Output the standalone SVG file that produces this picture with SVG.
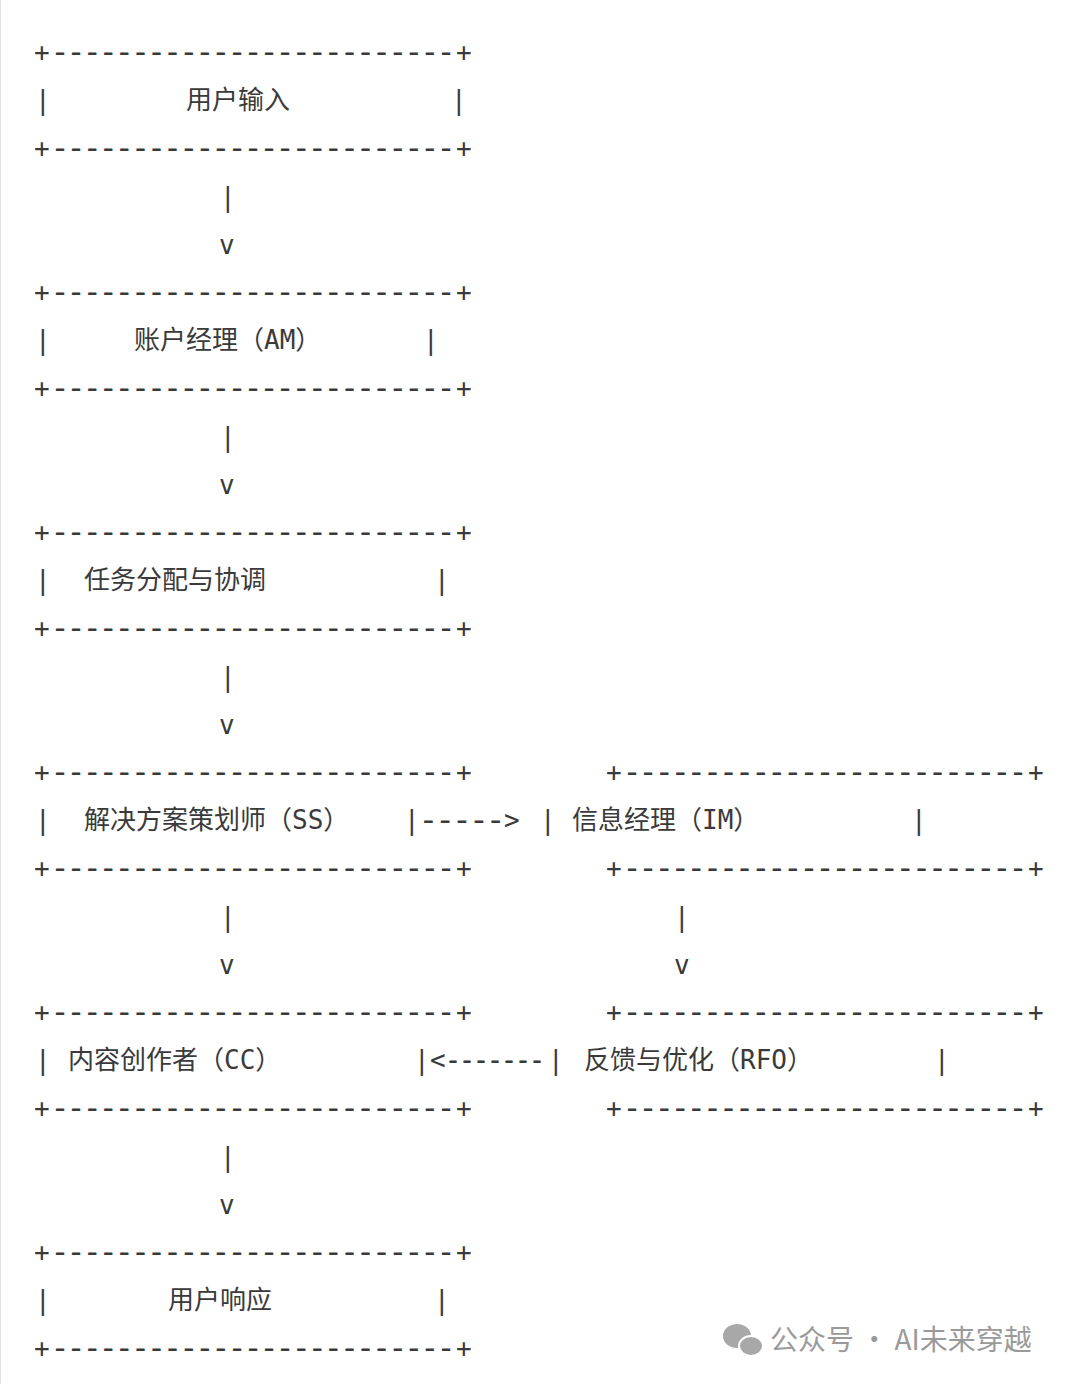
<svg xmlns="http://www.w3.org/2000/svg" width="1072" height="1384" viewBox="0 0 1072 1384">
<defs>
<g id="border"><text x="34" y="9">+</text><text class="d" x="52" y="7" textLength="402" lengthAdjust="spacingAndGlyphs">-------------------------</text><text x="456" y="9">+</text></g>
</defs>
<style>
text{font-family:"DejaVu Sans Mono","Noto Sans CJK SC",monospace;font-size:26px;fill:#3a3a3a}
.d{font-size:17px;font-weight:bold}
.c{font-family:"DejaVu Sans Mono","Noto Sans CJK SC",monospace;font-size:26px}
.w{font-family:"Noto Sans CJK SC","DejaVu Sans",sans-serif;font-size:28px;fill:#9a9a9a}
</style>
<rect width="1072" height="1384" fill="#fff"/>
<line x1="0.5" y1="0" x2="0.5" y2="1384" stroke="#e2e2e2"/>
<g id="n1"><use href="#border" y="52"/><text x="35" y="109">|</text><text class="c" x="186" y="109">用户输入</text><text x="451" y="109">|</text><use href="#border" y="148"/></g>
<g id="n2"><use href="#border" y="292"/><text x="35" y="349">|</text><text class="c" x="134" y="349">账户经理（AM）</text><text x="423" y="349">|</text><use href="#border" y="388"/></g>
<g id="n3"><use href="#border" y="532"/><text x="35" y="589">|</text><text class="c" x="84" y="589">任务分配与协调</text><text x="434" y="589">|</text><use href="#border" y="628"/></g>
<g id="n4"><use href="#border" y="772"/><text x="35" y="829">|</text><text class="c" x="84" y="829">解决方案策划师（SS）</text><use href="#border" y="868"/></g>
<g id="n5"><use href="#border" x="572" y="772"/><text x="540" y="829">|</text><text class="c" x="572" y="829">信息经理（IM）</text><text x="911" y="829">|</text><use href="#border" x="572" y="868"/></g>
<g id="n6"><use href="#border" y="1012"/><text x="35" y="1069">|</text><text class="c" x="68" y="1069">内容创作者（CC）</text><use href="#border" y="1108"/></g>
<g id="n7"><use href="#border" x="572" y="1012"/><text class="c" x="584" y="1069">反馈与优化（RFO）</text><text x="934" y="1069">|</text><use href="#border" x="572" y="1108"/></g>
<g id="n8"><use href="#border" y="1252"/><text x="35" y="1309">|</text><text class="c" x="168" y="1309">用户响应</text><text x="434" y="1309">|</text><use href="#border" y="1348"/></g>
<g id="connectors">
<text x="220" y="206">|</text><text x="219" y="254">v</text>
<text x="220" y="446">|</text><text x="219" y="494">v</text>
<text x="220" y="686">|</text><text x="219" y="734">v</text>
<text x="220" y="926">|</text><text x="219" y="974">v</text>
<text x="674" y="926">|</text><text x="674" y="974">v</text>
<text x="220" y="1166">|</text><text x="219" y="1214">v</text>
<text x="404" y="829">|</text><text class="d" x="420" y="827" textLength="84" lengthAdjust="spacingAndGlyphs">-----</text><text x="504" y="829">&gt;</text>
<text x="414" y="1069">|</text><text x="430" y="1069">&lt;</text><text class="d" x="446" y="1067" textLength="98" lengthAdjust="spacingAndGlyphs">-------</text><text x="548" y="1069">|</text>
</g>
<g id="watermark">
<ellipse cx="737" cy="1336" rx="14" ry="12" fill="#a8a8a8"/>
<ellipse cx="751" cy="1346" rx="12" ry="10" fill="#a8a8a8" stroke="#fff" stroke-width="2"/>
<text class="w" x="770" y="1350">公众号 · AI未来穿越</text>
</g>
</svg>
